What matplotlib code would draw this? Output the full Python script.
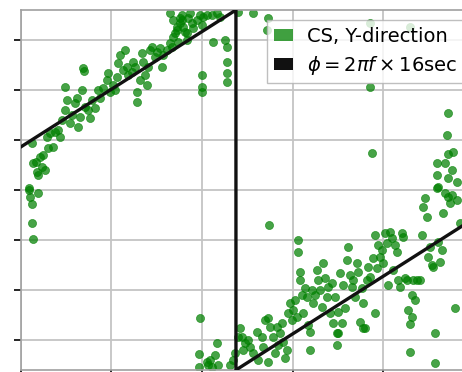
import numpy as np
import matplotlib
matplotlib.use("Agg")
import matplotlib.pyplot as plt
from matplotlib.patches import Patch

# Measured phase of the CS channel (Y-direction), frequency in mHz, phase in degrees
# branch before the phase wrap
cs_freq_a = [70.88, 71.33, 71.66, 72.10, 72.43, 71.77, 72.32, 72.65, 71.88, 71.22,
             72.87, 73.20, 73.76, 74.09, 73.54, 72.98, 74.31, 74.53, 74.86, 75.08,
             74.86, 75.41, 75.64, 75.97, 76.19, 76.52, 76.30, 76.74, 76.85, 76.96,
             77.07, 77.40, 77.62, 77.85, 78.18, 78.51, 78.73, 79.06, 79.50, 79.61,
             79.83, 80.17, 80.39, 80.61, 80.72, 80.94, 81.49, 81.27, 81.71, 81.82,
             82.27, 82.38, 82.60, 82.82, 82.82, 83.15, 83.37, 83.48, 83.70, 83.92,
             84.03, 84.25, 84.48, 84.81, 85.03, 85.36, 85.58, 85.69, 86.13, 86.46,
             86.69, 86.80, 87.02, 87.24, 87.35, 87.57, 87.79, 87.79, 87.90, 88.12,
             88.34, 88.45, 88.67, 88.90, 89.01, 89.45, 89.78, 90.00, 90.11, 90.55,
             91.11, 91.22, 91.66, 91.99, 86.46, 86.80, 90.00, 90.00, 90.00, 92.54,
             92.76, 92.76, 92.76, 92.76, 88.34, 87.24, 87.57, 70.88, 70.99, 71.88,
             71.22, 71.22, 71.33,
             89.78, 89.67, 91.66, 89.67, 90.55, 90.88, 91.44, 91.77, 90.66, 93.09,
             91.11]
cs_phase_a = [2, 27, 28, 33, 35, 18, 23, 20, 15, 47,
              53, 57, 58, 60, 43, 42, 53, 70, 80, 90,
              103, 67, 75, 87, 92, 73, 63, 100, 122, 119,
              83, 80, 72, 90, 82, 100, 92, 102, 110, 117,
              98, 105, 100, 113, 127, 135, 140, 120, 123, 115,
              118, 128, 123, 98, 88, 110, 137, 128, 115, 105,
              123, 140, 143, 133, 138, 142, 123, 135, 140, 147,
              143, 153, 157, 160, 148, 167, 170, 175, 163, 158,
              150, 172, 177, 167, 162, 170, 175, 165, 173, 175,
              175, 148, 177, 173, 177, 170, 115, 103, 98, 150,
              143, 128, 117, 108, 157, 163, 172, 0, -7, -3,
              -14, -33, -49,
              -128, -164, -153, -177, -172, -170, -165, -175, -175, -175,
              -177]

# branch after the phase wrap
cs_freq_b = [93.65, 93.98, 94.20, 93.43, 94.42, 94.75, 94.53, 95.08, 95.30, 95.64,
             96.08, 96.19, 96.63, 96.74, 96.96, 97.29, 97.29, 97.51, 97.85, 98.07,
             98.29, 98.40, 98.62, 98.84, 98.95, 99.17, 99.39, 99.50, 99.72, 99.95,
             100.06, 100.28, 100.50, 100.61, 100.61, 100.83, 100.83, 101.05, 101.16, 101.38,
             101.60, 101.71, 101.93, 101.93, 102.16, 102.27, 102.49, 102.71, 102.82, 103.04,
             103.26, 103.37, 103.59, 103.81, 103.92, 104.14, 104.37, 104.48, 104.70, 104.92,
             104.92, 105.03, 105.25, 105.47, 105.58, 105.80, 106.02, 106.13, 106.35, 106.58,
             106.69, 106.91, 107.13, 107.24, 107.46, 107.68, 107.79, 108.01, 108.23, 108.34,
             108.56, 108.90, 109.12, 109.12, 109.34, 109.45, 109.67, 109.89, 110.00, 110.22,
             110.44, 110.55, 110.77, 111.00, 111.11, 111.33, 111.55, 111.66, 111.88, 112.10,
             112.21, 112.43, 112.65, 112.76, 112.98, 113.21, 113.32, 113.54, 113.21, 113.76,
             114.09, 114.31, 114.42, 114.64, 114.86, 114.97, 115.19, 115.42, 115.53, 115.75,
             115.75, 115.97, 116.08, 116.30, 116.52, 116.63, 116.85, 117.18, 117.40, 117.63,
             117.96, 118.18, 118.51, 97.40, 112.98, 107.79, 105.03, 93.98, 95.64, 97.29,
             97.18, 108.56, 112.98, 108.56, 117.18, 117.07, 108.79, 117.18, 117.74, 115.97,
             116.85, 117.63, 115.97, 117.18, 118.18, 116.08]
cs_phase_b = [-163, -147, -138, -170, -147, -153, -160, -150, -157, -163,
              -142, -170, -147, -157, -130, -128, -172, -137, -147, -163,
              -137, -155, -143, -133, -152, -168, -160, -123, -113, -130,
              -120, -110, -127, -50, -62, -82, -90, -105, -123, -98,
              -107, -135, -142, -160, -100, -113, -105, -80, -90, -100,
              -117, -73, -88, -107, -97, -123, -93, -133, -107, -143,
              -155, -122, -83, -133, -95, -118, -70, -57, -85, -97,
              -90, -107, -73, -82, -132, -98, -113, -138, -90, -77,
              -87, -68, -45, -123, -78, -55, -67, -60, -73, -43,
              -53, -95, -42, -48, -80, -55, -62, -90, -97, -43,
              -47, -88, -90, -120, -162, -105, -90, -110, -127, -90,
              -90, -45, -17, -8, -27, -67, -57, -75, -77, -143,
              -173, 2, -52, -72, -60, -23, -3, -7, -13, -5,
              -118, -10, -33, -35, -134, -138, -143, 178, 177, 172,
              160, 167, 163, 103, 77, 55, 37, 36, 38, 27,
              27, 20, 15, 12, 8, 3]

delay_s = 16.0
freq_range_mhz = (70.0, 120.0)
xticks_mhz = [70, 80, 90, 100, 110, 120]
yticks_deg = [-150, -100, -50, 0, 50, 100, 150]

cs_freq = np.array(cs_freq_a + cs_freq_b)
cs_phase = np.array(cs_phase_a + cs_phase_b)

# model phase for a pure delay, wrapped to (-180, 180]
f_model = np.linspace(freq_range_mhz[0], freq_range_mhz[1], 20001)
phi_model = np.angle(np.exp(1j * 2 * np.pi * f_model * 1e-3 * delay_s), deg=True)

fig = plt.figure(figsize=(4.62, 3.72), dpi=100)
ax = fig.add_axes([21 / 462, 2 / 372, 452.5 / 462, 360 / 372])

ax.scatter(cs_freq, cs_phase, s=34, color='green', alpha=0.72,
           edgecolors='green', linewidths=0.5, zorder=2)
ax.plot(f_model, phi_model, color='#111111', lw=2.4, zorder=3)

ax.set_xlim(*freq_range_mhz)
ax.set_ylim(-180, 180)
ax.set_xticks(xticks_mhz)
ax.set_yticks(yticks_deg)
ax.tick_params(labelleft=False, labelbottom=False, length=5, width=1.2, color='black')
ax.grid(True, color='#c4c4c4', lw=1.3)
ax.set_axisbelow(True)
for sp in ax.spines.values():
    sp.set_color('#a0a0a0')
    sp.set_linewidth(1.2)

handles = [Patch(facecolor='green', alpha=0.75, edgecolor='none'),
           Patch(facecolor='#111111', edgecolor='none')]
labels = ['CS, Y-direction', r'$\phi = 2\pi f \times 16$sec']
leg = ax.legend(handles, labels, loc='upper left', bbox_to_anchor=(0.5436, 0.972),
                borderaxespad=0, fontsize=14, fancybox=False, framealpha=0.8,
                edgecolor='#b0b0b0', handlelength=1.0, handleheight=0.55,
                labelspacing=0.4, borderpad=0.35, handletextpad=0.7)
leg.get_frame().set_linewidth(1.0)

fig.savefig('out.png', dpi=100)
